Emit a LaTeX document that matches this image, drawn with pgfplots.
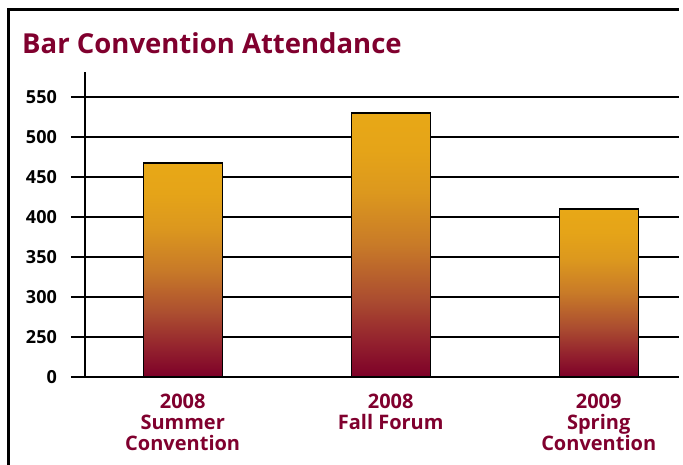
\documentclass[border=0pt]{standalone}
\usepackage{pgfplots}
\pgfplotsset{compat=1.18}
\usepackage{fontspec}
\setmainfont{Open Sans}
\definecolor{maroon}{HTML}{80002E}
\pgfdeclareverticalshading{barshade}{100bp}{%
  color(0bp)=(rgb,255:red,125;green,0;blue,40);
  color(25bp)=(rgb,255:red,125;green,0;blue,40);
  color(32bp)=(rgb,255:red,148;green,35;blue,46);
  color(40bp)=(rgb,255:red,172;green,78;blue,48);
  color(50bp)=(rgb,255:red,200;green,122;blue,40);
  color(60bp)=(rgb,255:red,220;green,152;blue,30);
  color(68bp)=(rgb,255:red,229;green,164;blue,24);
  color(75bp)=(rgb,255:red,232;green,168;blue,23);
  color(100bp)=(rgb,255:red,232;green,168;blue,23)}
\pgfplotsset{gradbar/.style={ybar, bar shift=0pt, bar width=79pt, draw=black, line width=1.2pt, shading=barshade}}
\begin{document}
\begin{tikzpicture}
\begin{axis}[
  name=ax,
  scale only axis, width=594pt, height=305pt,
  xmin=-0.4697, xmax=2.386,
  ymin=200, ymax=581.25,
  axis x line*=bottom, axis y line*=left,
  axis line style={line width=2pt},
  ytick={200,250,300,350,400,450,500,550},
  yticklabels={0\hspace{18pt},250,300,350,400,450,500,550},
  xtick={0,1,2},
  xticklabels={{2008\\Summer\\Convention},{2008\\Fall Forum},{2009\\Spring\\Convention}},
  tick align=outside,
  major tick length=14pt,
  xtick style={draw=none},
  ytick style={line width=2pt, black},
  ymajorgrids,
  grid style={line width=2pt, black},
  /pgf/number format/assume math mode=true,
  yticklabel style={font=\fontsize{18}{20}\selectfont\bfseries, text=black, inner sep=0pt, xshift=-14pt},
  xticklabel style={font=\fontsize{20}{21}\selectfont\bfseries, text=maroon, align=center, inner sep=0pt, yshift=-3pt},
]
\addplot[gradbar] coordinates {(0,467.5)};
\addplot[gradbar] coordinates {(1,530)};
\addplot[gradbar] coordinates {(2,410)};
\end{axis}
\begin{scope}[shift={(ax.south west)}, x=1pt, y=1pt]
\pgfresetboundingbox
\useasboundingbox (-85,-88) rectangle (598,377);
\draw[line width=3pt] (-76,-88) -- (-76,367) -- (594,367);
\node[anchor=base west, text=maroon, font=\fontsize{27.5}{32}\selectfont\bfseries, inner sep=0pt] at (-63,323) {Bar Convention Attendance};
\end{scope}
\end{tikzpicture}
\end{document}
